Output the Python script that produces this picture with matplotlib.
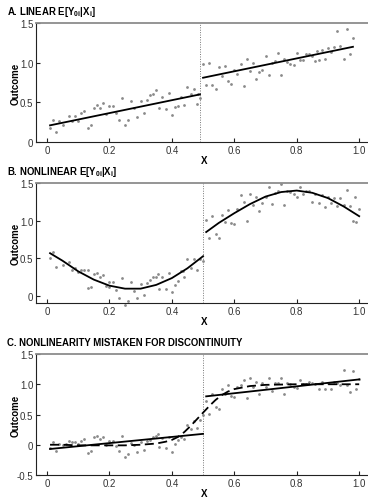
import matplotlib
matplotlib.use("Agg")
import matplotlib.pyplot as plt

plt.rcParams["font.family"] = ["Liberation Sans", "DejaVu Sans"]
plt.rcParams["mathtext.fontset"] = "custom"
plt.rcParams["mathtext.rm"] = "Liberation Sans:bold"
plt.rcParams["mathtext.it"] = "Liberation Sans:bold"
plt.rcParams["mathtext.bf"] = "Liberation Sans:bold"
plt.rcParams["mathtext.default"] = "rm"

# ---- Panel A: linear E[Y0i|Xi] ----
a_x_left = [0.01, 0.02, 0.03, 0.04, 0.05, 0.07, 0.08, 0.09, 0.10, 0.11, 0.12, 0.13,
            0.14, 0.15, 0.16, 0.17, 0.18, 0.19, 0.20, 0.21, 0.22, 0.23, 0.24, 0.25,
            0.26, 0.27, 0.28, 0.29, 0.30, 0.31, 0.32, 0.33, 0.34, 0.35, 0.36, 0.37,
            0.38, 0.39, 0.40, 0.41, 0.42, 0.43, 0.44, 0.45, 0.46, 0.47, 0.48, 0.485, 0.49]
a_y_left = [0.18, 0.28, 0.13, 0.26, 0.21, 0.33, 0.26, 0.33, 0.26, 0.36, 0.39, 0.18,
            0.22, 0.43, 0.47, 0.43, 0.49, 0.35, 0.45, 0.45, 0.37, 0.28, 0.55, 0.21,
            0.28, 0.52, 0.43, 0.31, 0.52, 0.37, 0.53, 0.59, 0.61, 0.65, 0.43, 0.57,
            0.41, 0.62, 0.34, 0.44, 0.45, 0.57, 0.47, 0.69, 0.61, 0.67, 0.48, 0.61, 0.56]
a_x_right = [0.50, 0.51, 0.52, 0.53, 0.54, 0.55, 0.56, 0.57, 0.58, 0.59, 0.60, 0.61,
             0.62, 0.63, 0.64, 0.65, 0.66, 0.67, 0.68, 0.69, 0.70, 0.71, 0.72, 0.73,
             0.74, 0.75, 0.76, 0.77, 0.78, 0.79, 0.80, 0.81, 0.82, 0.83, 0.84, 0.85,
             0.86, 0.865, 0.87, 0.88, 0.89, 0.90, 0.91, 0.92, 0.93, 0.94, 0.95, 0.96,
             0.97, 0.98]
a_y_right = [0.98, 0.72, 0.99, 0.72, 0.67, 0.94, 0.83, 0.96, 0.77, 0.73, 0.91, 0.86,
             0.98, 0.70, 1.05, 0.90, 0.99, 0.80, 0.88, 0.91, 1.09, 0.85, 0.99, 1.02,
             1.12, 0.84, 1.05, 1.01, 0.98, 0.97, 1.12, 1.03, 1.03, 1.11, 1.11, 1.09,
             1.02, 1.15, 1.03, 1.16, 1.05, 1.19, 1.14, 1.20, 1.40, 1.21, 1.04, 1.42,
             1.11, 1.31]
a_fit_left_x = [0.01, 0.49]
a_fit_left_y = [0.21, 0.60]
a_fit_right_x = [0.50, 0.98]
a_fit_right_y = [0.81, 1.20]

# ---- Panel B: nonlinear E[Y0i|Xi] ----
b_x_left = [0.01, 0.02, 0.03, 0.05, 0.07, 0.08, 0.09, 0.10, 0.11, 0.12, 0.13, 0.13,
            0.14, 0.15, 0.16, 0.17, 0.18, 0.19, 0.20, 0.20, 0.21, 0.22, 0.23, 0.24,
            0.25, 0.26, 0.27, 0.28, 0.29, 0.30, 0.31, 0.32, 0.33, 0.34, 0.35, 0.355,
            0.36, 0.37, 0.38, 0.39, 0.40, 0.41, 0.42, 0.43, 0.435, 0.44, 0.45, 0.46,
            0.47, 0.48, 0.49, 0.50]
b_y_left = [0.51, 0.58, 0.39, 0.41, 0.45, 0.35, 0.37, 0.32, 0.35, 0.35, 0.35, 0.11,
            0.12, 0.30, 0.31, 0.25, 0.28, 0.13, 0.12, 0.19, 0.19, 0.08, -0.02, 0.24,
            -0.11, -0.06, 0.19, 0.07, -0.03, 0.16, 0.01, 0.17, 0.22, 0.25, 0.26, 0.30,
            0.10, 0.26, 0.10, 0.31, 0.05, 0.15, 0.20, 0.33, 0.34, 0.25, 0.49, 0.37,
            0.49, 0.35, 0.49, 0.46]
b_x_right = [0.51, 0.52, 0.53, 0.54, 0.55, 0.56, 0.57, 0.58, 0.59, 0.60, 0.61, 0.62,
             0.63, 0.64, 0.65, 0.66, 0.67, 0.68, 0.69, 0.70, 0.71, 0.72, 0.73, 0.74,
             0.75, 0.76, 0.77, 0.78, 0.79, 0.80, 0.81, 0.82, 0.83, 0.84, 0.85, 0.86,
             0.87, 0.88, 0.89, 0.90, 0.91, 0.92, 0.93, 0.94, 0.95, 0.96, 0.97, 0.98,
             0.985, 0.99, 1.00]
b_y_right = [1.01, 0.77, 1.06, 0.82, 0.77, 1.08, 0.98, 1.14, 0.97, 0.96, 1.16, 1.34,
             1.25, 1.00, 1.35, 1.21, 1.32, 1.13, 1.24, 1.31, 1.45, 1.22, 1.37, 1.40,
             1.49, 1.21, 1.40, 1.38, 1.35, 1.32, 1.45, 1.36, 1.39, 1.40, 1.25, 1.36,
             1.23, 1.34, 1.18, 1.31, 1.24, 1.30, 1.20, 1.30, 1.21, 1.41, 1.19, 0.99,
             1.32, 0.98, 1.15]
b_fit_left_x = [0.01, 0.05, 0.10, 0.15, 0.20, 0.25, 0.30, 0.35, 0.40, 0.45, 0.50]
b_fit_left_y = [0.57, 0.47, 0.33, 0.22, 0.14, 0.10, 0.10, 0.15, 0.24, 0.37, 0.53]
b_fit_right_x = [0.51, 0.55, 0.60, 0.65, 0.70, 0.75, 0.80, 0.85, 0.90, 0.95, 1.00]
b_fit_right_y = [0.85, 0.97, 1.10, 1.22, 1.32, 1.38, 1.40, 1.37, 1.30, 1.19, 1.06]

# ---- Panel C: nonlinearity mistaken for discontinuity ----
c_x_left = [0.01, 0.02, 0.03, 0.04, 0.05, 0.06, 0.07, 0.08, 0.09, 0.10, 0.11, 0.12,
            0.13, 0.14, 0.15, 0.16, 0.17, 0.18, 0.19, 0.20, 0.21, 0.22, 0.23, 0.24,
            0.25, 0.26, 0.27, 0.28, 0.29, 0.30, 0.31, 0.32, 0.33, 0.34, 0.35, 0.355,
            0.36, 0.37, 0.38, 0.39, 0.40, 0.41, 0.42, 0.43, 0.44, 0.45, 0.46, 0.47,
            0.48, 0.49, 0.50]
c_y_left = [-0.05, 0.05, -0.11, 0.02, 0.00, 0.02, 0.07, 0.05, 0.04, 0.01, 0.07, 0.09,
            -0.13, -0.10, 0.12, 0.14, 0.09, 0.13, -0.01, 0.07, 0.07, -0.02, -0.11, 0.15,
            -0.20, -0.15, 0.03, -0.01, -0.12, 0.04, -0.09, 0.07, 0.08, 0.12, 0.15, 0.17,
            -0.04, 0.11, -0.05, 0.13, -0.12, 0.02, 0.08, 0.13, 0.10, 0.33, 0.26, 0.39,
            0.28, 0.41, 0.49]
c_x_right = [0.51, 0.52, 0.53, 0.54, 0.55, 0.56, 0.57, 0.58, 0.59, 0.60, 0.61, 0.62,
             0.63, 0.64, 0.65, 0.66, 0.67, 0.68, 0.69, 0.70, 0.71, 0.72, 0.73, 0.74,
             0.75, 0.76, 0.77, 0.78, 0.79, 0.80, 0.81, 0.82, 0.83, 0.84, 0.85, 0.86,
             0.87, 0.88, 0.89, 0.90, 0.91, 0.92, 0.93, 0.94, 0.95, 0.96, 0.97, 0.98,
             0.99, 1.00]
c_y_right = [0.73, 0.51, 0.84, 0.63, 0.59, 0.92, 0.84, 0.99, 0.81, 0.79, 0.96, 0.98,
             1.07, 0.78, 1.11, 0.96, 1.04, 0.84, 1.02, 0.95, 1.11, 0.89, 1.02, 1.02,
             1.11, 0.84, 1.02, 1.00, 0.95, 0.94, 1.07, 1.00, 1.00, 1.04, 1.02, 1.01,
             0.92, 1.04, 0.92, 1.02, 0.92, 1.04, 1.02, 0.99, 1.23, 0.98, 0.87, 1.22,
             0.92, 1.08]
c_fit_left_x = [0.01, 0.50]
c_fit_left_y = [-0.07, 0.18]
c_fit_right_x = [0.51, 1.00]
c_fit_right_y = [0.80, 1.08]
c_true_x = [0.01, 0.05, 0.10, 0.15, 0.20, 0.25, 0.30, 0.35, 0.38, 0.40, 0.42, 0.44,
            0.46, 0.48, 0.50, 0.52, 0.54, 0.56, 0.58, 0.60, 0.65, 0.70, 0.80, 1.00]
c_true_y = [0.00, 0.00, -0.01, -0.01, -0.01, -0.01, 0.00, 0.02, 0.05, 0.08, 0.13, 0.21,
            0.31, 0.42, 0.53, 0.64, 0.74, 0.82, 0.88, 0.92, 0.97, 0.99, 1.00, 1.00]

x_ticks = [0, 0.2, 0.4, 0.6, 0.8, 1.0]
x_tick_labels = ["0", "0.2", "0.4", "0.6", "0.8", "1.0"]

titles = [
    "A. LINEAR E[Y$_{0i}$|X$_{i}$]",
    "B. NONLINEAR E[Y$_{0i}$|X$_{i}$]",
    "C. NONLINEARITY MISTAKEN FOR DISCONTINUITY",
]

W, H = 368, 502
# axes boxes in pixels: (top, bottom)
boxes = [(24, 143), (184, 304), (355, 476)]
left_px = 36
ylims = [(0, 1.5), (-0.09, 1.5), (-0.5, 1.5)]
yticks = [([0, 0.5, 1.0, 1.5], ["0", "0.5", "1.0", "1.5"]),
          ([0, 0.5, 1.0, 1.5], ["0", "0.5", "1.0", "1.5"]),
          ([-0.5, 0, 0.5, 1.0, 1.5], ["-0.5", "0", "0.5", "1.0", "1.5"])]
cutoffs = [0.49, 0.50, 0.50]

fig = plt.figure(figsize=(W / 100, H / 100), dpi=100)

panels = [
    ((a_x_left, a_y_left, a_x_right, a_y_right),
     [(a_fit_left_x, a_fit_left_y, "-"), (a_fit_right_x, a_fit_right_y, "-")]),
    ((b_x_left, b_y_left, b_x_right, b_y_right),
     [(b_fit_left_x, b_fit_left_y, "-"), (b_fit_right_x, b_fit_right_y, "-")]),
    ((c_x_left, c_y_left, c_x_right, c_y_right),
     [(c_fit_left_x, c_fit_left_y, "-"), (c_fit_right_x, c_fit_right_y, "-"),
      (c_true_x, c_true_y, "--")]),
]

for i, ((xl, yl, xr, yr), lines) in enumerate(panels):
    top, bot = boxes[i]
    ax = fig.add_axes([left_px / W, 1 - bot / H, (W - left_px) / W + 0.01, (bot - top) / H])
    ax.set_xlim(-0.035, 1.04)
    ax.set_ylim(*ylims[i])

    ax.scatter(xl + xr, yl + yr, s=4, color="#8a8a8a", linewidths=0, zorder=2, clip_on=False)
    for lx, ly, ls in lines:
        ax.plot(lx, ly, color="black", lw=1.3, ls=ls, zorder=3,
                dashes=(5, 2.5) if ls == "--" else (None, None))
    ax.axvline(cutoffs[i], color="#777777", lw=0.7, ls=(0, (1, 1.5)), zorder=1)

    ax.set_xticks(x_ticks)
    ax.set_xticklabels(x_tick_labels)
    ax.set_yticks(yticks[i][0])
    ax.set_yticklabels(yticks[i][1])
    ax.tick_params(direction="in", length=3, width=0.8, labelsize=7,
                   colors="#222222", labelcolor="#333333")
    ax.tick_params(axis="x", pad=2.5)
    ax.tick_params(axis="y", pad=2)

    ax.spines["right"].set_visible(False)
    ax.spines["top"].set_color("#8c8c8c")
    ax.spines["top"].set_linewidth(1.3)
    for side in ("left", "bottom"):
        ax.spines[side].set_color("#222222")
        ax.spines[side].set_linewidth(0.8)

    ax.set_xlabel("X", fontsize=7, fontweight="bold", labelpad=0)
    ax.set_ylabel("Outcome", fontsize=7, fontweight="bold")
    ax.yaxis.set_label_coords(-15 / (W - left_px), 0.5)

    fig.text(7 / W, 1 - (top - 12) / H, titles[i], fontsize=6.9, fontweight="bold",
             ha="left", va="center")

fig.savefig("out.png", dpi=100)
